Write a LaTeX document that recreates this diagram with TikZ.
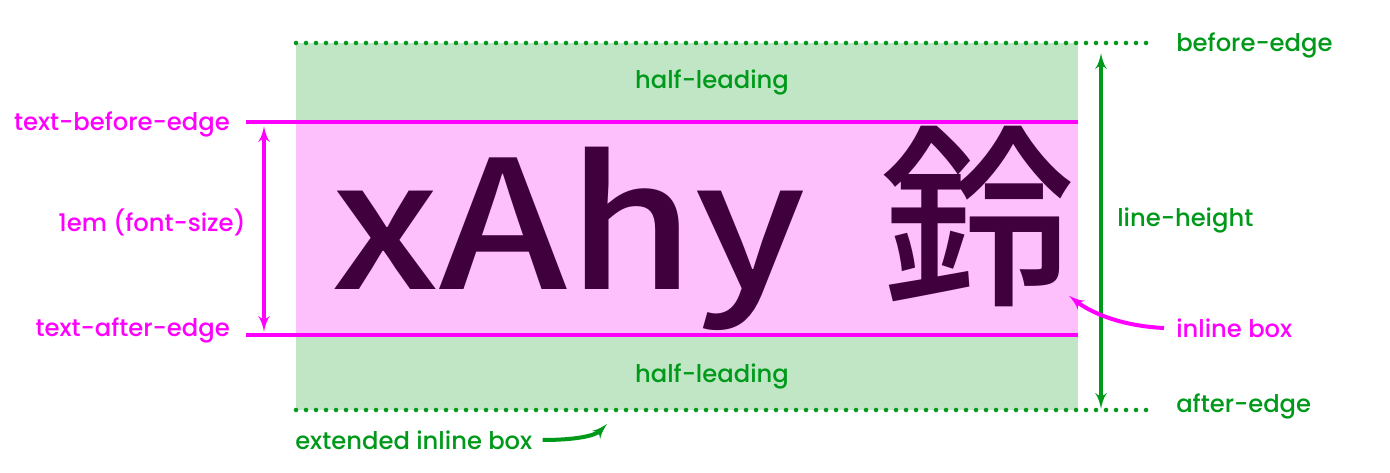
\documentclass[tikz,border=0pt]{standalone}
\usepackage{fontspec}
\setmainfont{Poppins}[UprightFont=* Medium]
\newfontfamily\cjk{Noto Sans CJK JP}[UprightFont=* Medium]
\usepackage{tikz}
\usetikzlibrary{arrows,positioning}
\definecolor{lead}{HTML}{C0E6C6}
\definecolor{inl}{HTML}{FDC0FD}
\definecolor{mag}{HTML}{FF00FF}
\definecolor{grn}{HTML}{00991A}
\definecolor{ink}{HTML}{40003D}
\tikzset{
  lbl/.style={font=\fontsize{18.2}{20}\selectfont, inner sep=0pt},
  big/.style={ink, inner sep=0pt, anchor=base west, font=\cjk\fontsize{134}{134}\selectfont},
  magline/.style={mag, line width=3pt},
  dotline/.style={grn, line width=3.4pt, line cap=round, dash pattern=on 0pt off 7.5pt},
  tipline/.style={line width=3pt, -latex', shorten >=1pt},
}

\begin{document}
\begin{tikzpicture}[x=0.75pt,y=-0.75pt]
        \useasboundingbox (0,0) rectangle (1390,473);
        % boxes
        \fill[lead] (296,43) rectangle (1078,410);
        \fill[inl] (296,122) rectangle (1078,335);

        \coordinate (BL) at (296,43);   \coordinate (BR) at (1155,43);
        \coordinate (AL) at (296,410);  \coordinate (AR) at (1155,410);
        \coordinate (TL) at (246,122);  \coordinate (TR) at (1078,122);
        \coordinate (UL) at (246,335);  \coordinate (UR) at (1078,335);

        \draw[dotline] (BL)--(BR);
        \draw[dotline] (AL)--(AR);
        \draw[magline] (TL)--(TR);
        \draw[magline] (UL)--(UR);

        % sample text
        \node[big, xscale=1.15, transform shape] (latin) at (331,290) {xAhy};
        \node[big, font=\cjk\fontsize{146}{146}\selectfont] (kanji) at (880,291) {鈴};

        % left labels
        \node[lbl, mag, anchor=east] (tbe) at (230,124) {text-before-edge};
        \node[lbl, mag, anchor=east] (tae) at (230,330) {text-after-edge};
        \node[lbl, mag] (em) at (152,222) {1em (font-size)};
        \coordinate (e1) at (264,125);  \coordinate (e2) at (264,333);
        \draw[tipline, mag, latex'-latex', shorten <=1pt] (e1)--(e2);

        % half-leading
        \node[lbl, grn] (hl1) at (712,82) {half-leading};
        \node[lbl, grn] (hl2) at (712,376) {half-leading};

        % right labels
        \node[lbl, grn, anchor=west] (be) at (1176,45) {before-edge};
        \node[lbl, grn, anchor=west] (ae) at (1176,406) {after-edge};
        \node[lbl, grn, anchor=west] (lh) at (1117,220) {line-height};
        \node[lbl, mag, anchor=west] (ib) at (1176,328) {inline box};
        \coordinate (l1) at (1101,52);  \coordinate (l2) at (1101,410);
        \draw[tipline, grn, latex'-latex', shorten <=1pt] (l1)--(l2);

        % pointers
        \coordinate (ibt) at (1068,295);
        \draw[tipline, mag] (ib.west) ++(-12,0) .. controls (1120,326) and (1090,312) .. (ibt);
        \node[lbl, grn, anchor=west] (eib) at (295,440) {extended inline box};
        \coordinate (eibt) at (608,423);
        \draw[tipline, grn] (eib.east) ++(10,0) .. controls (575,440) and (595,436) .. (eibt);
    \end{tikzpicture}
\end{document}
